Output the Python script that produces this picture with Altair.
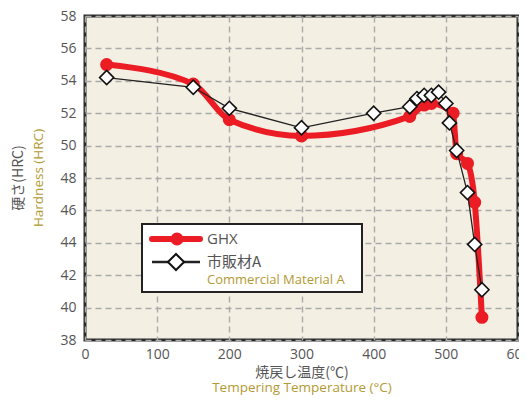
import altair as alt
import pandas as pd

ghx_temp = [30, 150, 200, 300, 450, 470, 480, 510, 515, 530, 540, 550]
ghx_hrc = [55.0, 53.8, 51.6, 50.6, 51.8, 52.5, 52.6, 52.0, 49.5, 48.9, 46.5, 39.4]

com_temp = [30, 150, 200, 300, 400, 450, 460, 470, 480, 490, 500, 505, 515, 530, 540, 550]
com_hrc = [54.2, 53.6, 52.3, 51.1, 52.0, 52.4, 52.9, 53.1, 53.1, 53.3, 52.6, 51.4, 49.7, 47.1, 43.9, 41.1]

x_ticks = [0, 100, 200, 300, 400, 500, 600]
y_ticks = [38, 40, 42, 44, 46, 48, 50, 52, 54, 56, 58]

RED = "#EC1C24"
GOLD = "#B39A33"
GRAY = "#555555"
FONT = "Open Sans, Noto Sans CJK JP, sans-serif"
JFONT = "Noto Sans CJK JP, sans-serif"

ghx = pd.DataFrame({"t": ghx_temp, "h": ghx_hrc})
com = pd.DataFrame({"t": com_temp, "h": com_hrc})

xs = alt.Scale(domain=[0, 600], nice=False)
ys = alt.Scale(domain=[38, 58], nice=False)

xax = alt.Axis(values=x_ticks, title=None, grid=True, ticks=False, domain=False,
               labelFontSize=14, labelColor=GRAY, labelFont=FONT, labelPadding=7,
               gridDash=[6, 4], gridColor="#AAAAAA", gridWidth=1.4, labelFlush=False,
               labelOverlap=False)
yax = alt.Axis(values=y_ticks, title=None, grid=True, ticks=False, domain=False,
               labelFontSize=14, labelColor=GRAY, labelFont=FONT, labelPadding=9,
               gridDash=[6, 4], gridColor="#AAAAAA", gridWidth=1.4, labelOverlap=False,
               labelFlush=False, tickCount=11)

base_red = alt.Chart(ghx).encode(
    x=alt.X("t:Q", scale=xs, axis=xax),
    y=alt.Y("h:Q", scale=ys, axis=yax),
)
red_line = base_red.mark_line(color=RED, strokeWidth=6, interpolate="monotone")
red_pts = base_red.mark_point(shape="circle", filled=True, color=RED, size=170, opacity=1)

base_com = alt.Chart(com).encode(x=alt.X("t:Q", scale=xs, axis=xax),
                                 y=alt.Y("h:Q", scale=ys, axis=yax))
com_line = base_com.mark_line(color="#222222", strokeWidth=1.3)
com_pts = base_com.mark_point(shape="diamond", filled=True, fill="white", stroke="#111111",
                              strokeWidth=1.6, size=200, opacity=1)

one = pd.DataFrame({"a": [0]})

box = alt.Chart(one).mark_rect(fill="white", stroke="#222222", strokeWidth=2).encode(
    x=alt.value(57), x2=alt.value(277), y=alt.value(208), y2=alt.value(276))
leg_red = alt.Chart(one).mark_rule(color=RED, strokeWidth=6, strokeCap="round").encode(
    x=alt.value(67), x2=alt.value(115), y=alt.value(223))
leg_red_pt = alt.Chart(one).mark_point(shape="circle", filled=True, color=RED, size=170, opacity=1).encode(
    x=alt.value(92), y=alt.value(223))
leg_blk = alt.Chart(one).mark_rule(color="#222222", strokeWidth=2.5).encode(
    x=alt.value(67), x2=alt.value(115), y=alt.value(246))
leg_blk_pt = alt.Chart(one).mark_point(shape="diamond", filled=True, fill="white", stroke="#111111",
                                       strokeWidth=2, size=260, opacity=1).encode(
    x=alt.value(91), y=alt.value(246))


def label(txt, x, y, color, size, angle=0, align="left", font=FONT):
    return alt.Chart(pd.DataFrame({"s": [txt]})).mark_text(
        color=color, fontSize=size, font=font, align=align, baseline="middle", angle=angle
    ).encode(text="s:N", x=alt.value(x), y=alt.value(y))


texts = [
    label("GHX", 122, 223, GRAY, 15),
    label("市販材A", 122, 246, GRAY, 15, font=JFONT),
    label("Commercial Material A", 122, 264, GOLD, 13),
    label("硬さ(HRC)", -66, 162, GRAY, 14, angle=270, align="center", font=JFONT),
    label("Hardness (HRC)", -46, 162, GOLD, 13.5, angle=270, align="center"),
    label("焼戻し温度(℃)", 217, 357, GRAY, 14, align="center", font=JFONT),
    label("Tempering Temperature (°C)", 217, 372, GOLD, 13.5, align="center"),
]

chart = alt.layer(
    red_line, red_pts, com_line, com_pts, box, leg_red, leg_red_pt, leg_blk, leg_blk_pt, *texts
).properties(
    width=433, height=324,
    autosize=alt.AutoSizeParams(type="none"),
    padding={"left": 77, "top": 8, "right": 1, "bottom": 55},
).configure_view(
    fill="#F3EFE3", stroke="#2A2A2A", strokeWidth=3
).configure_axis(
    labelOverlap=False
)

chart.save("out.html", embed_options={"renderer": "svg", "actions": False})
